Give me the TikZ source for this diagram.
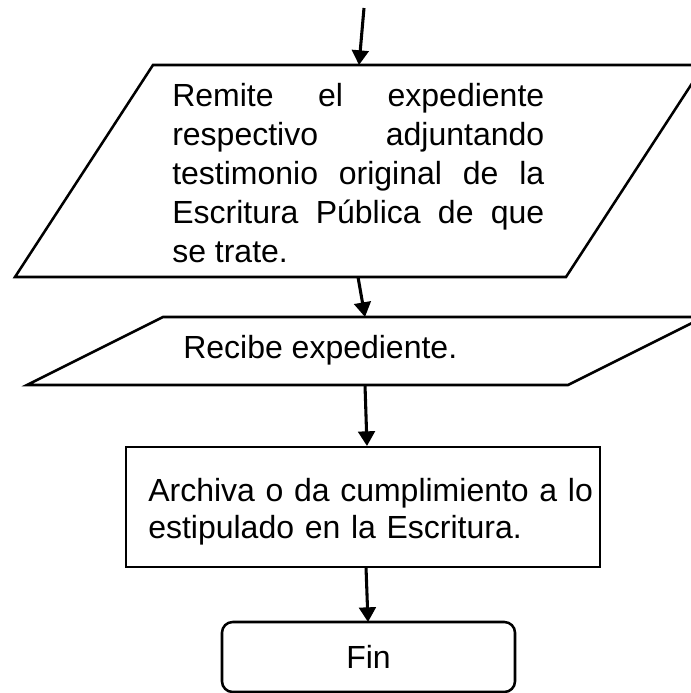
\documentclass[tikz,border=0pt]{standalone}
\usepackage{fontspec}
\setmainfont{Liberation Sans}
\usetikzlibrary{arrows.meta,positioning}
\tikzset{
  forma/.style={draw, line width=1.9pt, line join=miter},
  caja/.style={forma, rectangle, inner sep=0pt},
  finbox/.style={caja, rounded corners=8pt},
  texto/.style={inner sep=0pt, font=\fontsize{24pt}{29.25pt}\selectfont},
  flecha/.style={-{Triangle[length=11pt, width=12.5pt]}, line width=2.3pt},
}
\begin{document}
\begin{tikzpicture}[x=0.75pt, y=-0.75pt]
\useasboundingbox (0,0) rectangle (691,693);
\clip (0,0) rectangle (691,693);
% entradas y salidas
\draw[forma] (153,65) -- (704,65) -- (566,277) -- (15,277) -- cycle;
\node[texto, anchor=base west, text width=279pt, align=justify] (remite) at (172,106.7) {Remite el expediente\linebreak respectivo adjuntando\linebreak testimonio original de la\linebreak Escritura Pública de que\linebreak se trate.};
\draw[forma] (163,317) -- (704,317) -- (568,385) -- (27,385) -- cycle;
\node[texto, anchor=base west] (recibe) at (183,358) {Recibe expediente.};
% proceso y fin
\node[caja, minimum width=355.5pt, minimum height=90pt] (archiva) at (363,506.8) {};
\node[texto, font=\fontsize{24pt}{27.75pt}\selectfont, anchor=base west, text width=340pt, align=left] (archivatxt) at (148,501) {Archiva o da cumplimiento a lo\\estipulado en la Escritura.};
\node[finbox, texto, minimum width=219.75pt, minimum height=52.5pt] (fin) at (368.5,657) {Fin};
% conectores
\coordinate (inicio) at (364,8);
\coordinate (remitein) at (359,65);
\coordinate (remiteout) at (358,277);
\coordinate (recibein) at (365,317);
\coordinate (recibeout) at (365,385);
\coordinate (archivain) at (367,446);
\coordinate (archivaout) at (366,567);
\coordinate (finin) at (368,622);
\draw[flecha] (inicio) -- (remitein);
\draw[flecha] (remiteout) -- (recibein);
\draw[flecha] (recibeout) -- (archivain);
\draw[flecha] (archivaout) -- (finin);
\end{tikzpicture}
\end{document}
